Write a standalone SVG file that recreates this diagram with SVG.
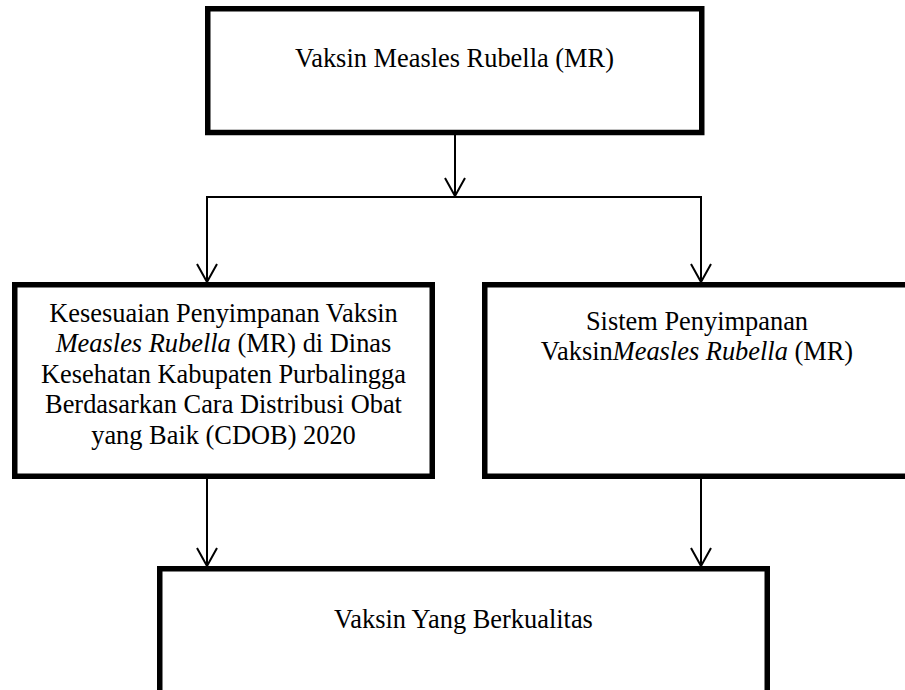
<svg xmlns="http://www.w3.org/2000/svg" width="905" height="690" viewBox="0 0 905 690">
  <style>
    .box { fill: #ffffff; stroke: #000000; stroke-width: 5.5; }
    .lbl { font-family: "Liberation Serif", "Times New Roman", serif; font-size: 26.4px; fill: #000000; text-anchor: middle; }
    .it { font-style: italic; }
    .conn { fill: none; stroke: #000000; stroke-width: 2; }
    .arr { fill: none; stroke: #000000; stroke-width: 2; marker-end: url(#ah); }
  </style>
  <defs>
    <marker id="ah" markerUnits="userSpaceOnUse" viewBox="-20 -12 22 24" refX="0" refY="0" markerWidth="22" markerHeight="24" orient="auto">
      <path d="M-18,-10 L0,0 L-18,10" fill="none" stroke="#000000" stroke-width="2"/>
    </marker>
  </defs>
  <rect width="905" height="690" fill="#ffffff"/>

  <g id="connectors">
    <line class="arr" x1="455" y1="135" x2="455" y2="196"/>
    <polyline class="conn" points="207,281 207,197 701,197 701,281"/>
    <line class="arr" x1="207" y1="197" x2="207" y2="282"/>
    <line class="arr" x1="701" y1="197" x2="701" y2="282"/>
    <line class="arr" x1="207" y1="479" x2="207" y2="566"/>
    <line class="arr" x1="701" y1="479" x2="701" y2="566"/>
  </g>

  <g id="node-top">
    <rect class="box" x="207.75" y="8.75" width="494" height="123.75"/>
    <text class="lbl" x="454.5" y="67">Vaksin Measles Rubella (MR)</text>
  </g>

  <g id="node-left">
    <rect class="box" x="14.75" y="284.75" width="417.5" height="191.5"/>
    <text class="lbl" x="223.5" y="322">Kesesuaian Penyimpanan Vaksin</text>
    <text class="lbl" x="223.5" y="352.4"><tspan class="it">Measles Rubella</tspan> (MR) di Dinas</text>
    <text class="lbl" x="223.5" y="382.8">Kesehatan Kabupaten Purbalingga</text>
    <text class="lbl" x="223.5" y="413.2">Berdasarkan Cara Distribusi Obat</text>
    <text class="lbl" x="223.5" y="443.6">yang Baik (CDOB) 2020</text>
  </g>

  <g id="node-right">
    <rect class="box" x="484.75" y="284.75" width="430" height="191.5"/>
    <text class="lbl" x="697" y="330">Sistem Penyimpanan</text>
    <text class="lbl" x="697" y="360">Vaksin<tspan class="it">Measles Rubella</tspan> (MR)</text>
  </g>

  <g id="node-bottom">
    <rect class="box" x="159.75" y="568.75" width="607.5" height="130"/>
    <text class="lbl" x="463.5" y="628">Vaksin Yang Berkualitas</text>
  </g>
</svg>
